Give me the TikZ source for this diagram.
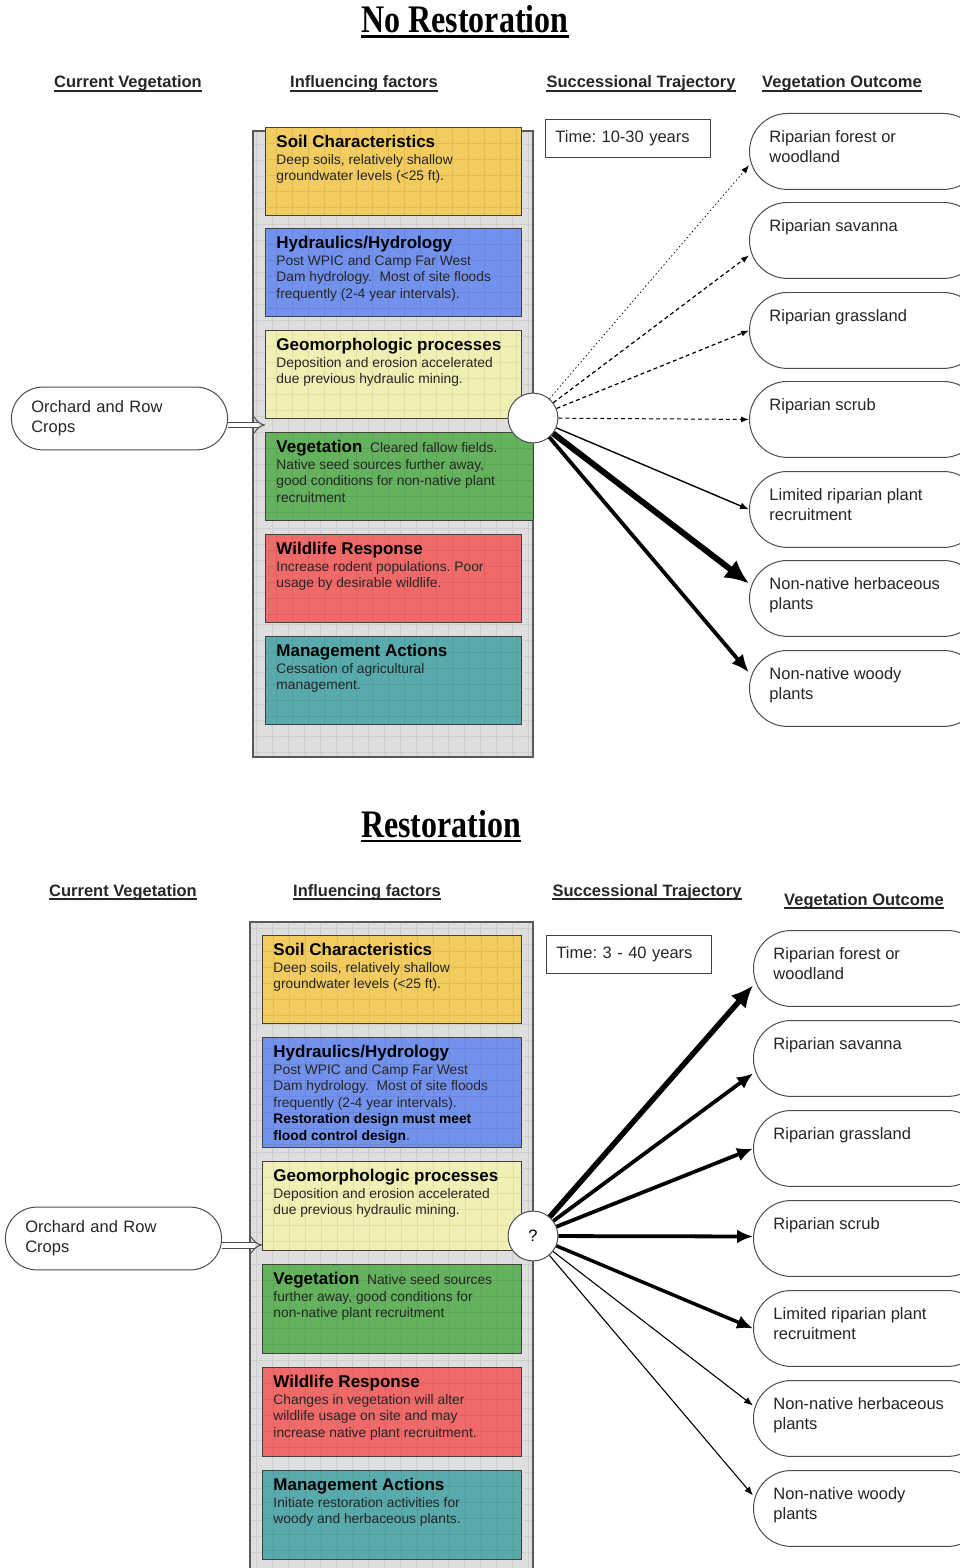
\documentclass[tikz,border=0pt]{standalone}
\usepackage{fontspec}
\setmainfont{Liberation Sans}
\newfontfamily\titlefont{Liberation Serif}[FakeStretch=0.82]
\usetikzlibrary{arrows.meta}
\frenchspacing

\definecolor{panelgray}{RGB}{222,222,222}
\definecolor{soilc}{RGB}{242,204,94}
\definecolor{hydroc}{RGB}{114,146,238}
\definecolor{geoc}{RGB}{241,240,180}
\definecolor{vegc}{RGB}{100,178,94}
\definecolor{wildc}{RGB}{240,106,106}
\definecolor{mgmtc}{RGB}{88,170,172}

\newcommand{\fs}[2]{\fontsize{#1bp}{#2bp}\selectfont}
\newcommand{\fhead}[1]{{\fs{17}{19}\bfseries\color{black}#1}}
\newcommand{\fbody}[3]{\parbox[c][#1bp][t]{#2bp}{\vspace*{1bp}\raggedright #3}}
\newcommand{\otext}[1]{\parbox[c][54bp][t]{192bp}{\vspace*{6bp}\raggedright #1}}

\tikzset{
  gridded/.style={path picture={\draw[black, opacity=0.07, line width=0.6]
      (path picture bounding box.north west) grid[step=16bp]
      (path picture bounding box.south east);}},
  title/.style={font=\titlefont\bfseries\fs{39}{40}, inner sep=0, anchor=base},
  colhead/.style={font=\bfseries\fs{16.5}{18}, text=black!85, inner sep=0, anchor=base},
  uline/.style={line width=1.3, black!85},
  panel/.style={fill=panelgray, draw=black!65, line width=1.2, gridded},
  factor/.style={draw=black!75, line width=1, anchor=north west, gridded,
      inner xsep=11, inner ysep=7, font=\fs{13.8}{16.5}, text=black!85},
  outcome/.style={draw=black!70, line width=1, rounded corners=38, fill=white,
      anchor=north west, minimum width=232, minimum height=76,
      inner xsep=20, inner ysep=11, font=\fs{16.5}{20}, text=black!85},
  crops/.style={draw=black!70, line width=1, rounded corners=31.5, fill=white,
      minimum width=217, minimum height=63, text width=177, align=left,
      inner xsep=20, font=\fs{16.5}{20}, text=black!85},
  timebox/.style={draw=black!75, line width=1, anchor=north west,
      minimum width=166, minimum height=38, text width=146, align=left,
      inner xsep=10, font=\fs{16.5}{20}, text=black!85},
  hub/.style={circle, draw=black!70, fill=white, line width=1, minimum size=50,
      inner sep=0, font=\fs{16.5}{20}},
  feed/.style={double=white, double distance=5, line width=1, draw=black!70,
      -{Implies[length=9]}},
  flow/.style={line width=#1, black}, flow/.default=1,
}

\begin{document}
\begin{tikzpicture}[x=1bp, y=-1bp]
\useasboundingbox (0,0) rectangle (959,1568);

% ---------------- No Restoration ----------------
\node[title] (tA) at (465,33) {No Restoration};
\draw[line width=3] ([yshift=-4]tA.base west) -- ([yshift=-4]tA.base east);

\node[colhead] (hA1) at (128,88) {Current Vegetation};
\node[colhead] (hA2) at (364,88) {Influencing factors};
\node[colhead] (hA3) at (641,88) {Successional Trajectory};
\node[colhead] (hA4) at (842,88) {Vegetation Outcome};
\foreach \h in {hA1,hA2,hA3,hA4}
  \draw[uline] ([yshift=-3]\h.base west) -- ([yshift=-3]\h.base east);

\draw[panel] (253,131) rectangle (533,757);

\node[factor, fill=soilc] (soilA) at (265,127) {\fbody{74}{234}{\fhead{Soil Characteristics}\\
  Deep soils, relatively shallow\\ groundwater levels (<25 ft).}};
\node[factor, fill=hydroc] (hydA) at (265,228) {\fbody{74}{234}{\fhead{Hydraulics/Hydrology}\\
  Post WPIC and Camp Far West\\ Dam hydrology.\ \ Most of site floods\\ frequently (2-4 year intervals).}};
\node[factor, fill=geoc] (geoA) at (265,330) {\fbody{74}{234}{\fhead{Geomorphologic processes}\\
  Deposition and erosion accelerated\\ due previous hydraulic mining.}};
\node[factor, fill=vegc] (vegA) at (265,432) {\fbody{74}{246}{\fhead{Vegetation}\ \ Cleared fallow fields.\\
  Native seed sources further away,\\ good conditions for non-native plant\\ recruitment}};
\node[factor, fill=wildc] (wildA) at (265,534) {\fbody{74}{234}{\fhead{Wildlife Response}\\
  Increase rodent populations. Poor\\ usage by desirable wildlife.}};
\node[factor, fill=mgmtc] (mgmtA) at (265,636) {\fbody{74}{234}{\fhead{Management Actions}\\
  Cessation of agricultural\\ management.}};

\node[crops] (cropsA) at (119.5,418.5) {Orchard and Row\\ Crops};
\coordinate (inA) at (265,425);
\draw[feed] (cropsA.east |- inA) -- (inA);

\node[timebox] (timeA) at (545,119) {Time: 10-30 years};
\node[hub] (hubA) at (533,418) {};

\node[outcome] (oA1) at (749,113) {\otext{Riparian forest or\\ woodland}};
\node[outcome] (oA2) at (749,202) {\otext{Riparian savanna}};
\node[outcome] (oA3) at (749,292) {\otext{Riparian grassland}};
\node[outcome] (oA4) at (749,381) {\otext{Riparian scrub}};
\node[outcome] (oA5) at (749,471) {\otext{Limited riparian plant\\ recruitment}};
\node[outcome] (oA6) at (749,560) {\otext{Non-native herbaceous\\ plants}};
\node[outcome] (oA7) at (749,650) {\otext{Non-native woody\\ plants}};

\draw[flow=0.7, dash pattern=on 1.5 off 2.5, -{Latex[length=8,width=6]}] (hubA) -- ([yshift=-14]oA1.west);
\draw[flow=1.2, dash pattern=on 4 off 3, -{Latex[length=8,width=6]}] (hubA) -- ([yshift=-15]oA2.west);
\draw[flow=1.2, dash pattern=on 4 off 3, -{Latex[length=8,width=6]}] (hubA) -- (oA3.west);
\draw[flow=1, dash pattern=on 4 off 3, -{Latex[length=8,width=6]}] (hubA) -- (oA4.west);
\draw[flow=1.4, -{Latex[length=9,width=7]}] (hubA) -- (oA5.west);
\draw[flow=6, -{Latex[length=24,width=22]}] (hubA) -- ([yshift=15]oA6.west);
\draw[flow=3.8, -{Latex[length=18,width=15]}] (hubA) -- ([yshift=16]oA7.west);

% ---------------- Restoration ----------------
\node[title] (tB) at (441,837) {Restoration};
\draw[line width=3] ([yshift=-4]tB.base west) -- ([yshift=-4]tB.base east);

\node[colhead] (hB1) at (123,896) {Current Vegetation};
\node[colhead] (hB2) at (367,896) {Influencing factors};
\node[colhead] (hB3) at (647,896) {Successional Trajectory};
\node[colhead] (hB4) at (864,905) {Vegetation Outcome};
\foreach \h in {hB1,hB2,hB3,hB4}
  \draw[uline] ([yshift=-3]\h.base west) -- ([yshift=-3]\h.base east);

\draw[panel] (250,922) rectangle (533,1590);

\node[factor, fill=soilc] (soilB) at (262,935) {\fbody{74}{237}{\fhead{Soil Characteristics}\\
  Deep soils, relatively shallow\\ groundwater levels (<25 ft).}};
\node[factor, fill=hydroc] (hydB) at (262,1037) {\fbody{96}{237}{\fhead{Hydraulics/Hydrology}\\
  Post WPIC and Camp Far West\\ Dam hydrology.\ \ Most of site floods\\ frequently (2-4 year intervals).\\
  {\bfseries\color{black}Restoration design must meet\\ flood control design}.}};
\node[factor, fill=geoc] (geoB) at (262,1161) {\fbody{75}{237}{\fhead{Geomorphologic processes}\\
  Deposition and erosion accelerated\\ due previous hydraulic mining.}};
\node[factor, fill=vegc] (vegB) at (262,1264) {\fbody{75}{237}{\fhead{Vegetation}\ \ Native seed sources\\
  further away, good conditions for\\ non-native plant recruitment}};
\node[factor, fill=wildc] (wildB) at (262,1367) {\fbody{75}{237}{\fhead{Wildlife Response}\\
  Changes in vegetation will alter\\ wildlife usage on site and may\\ increase native plant recruitment.}};
\node[factor, fill=mgmtc] (mgmtB) at (262,1470) {\fbody{75}{237}{\fhead{Management Actions}\\
  Initiate restoration activities for\\ woody and herbaceous plants.}};

\node[crops] (cropsB) at (113.5,1238.5) {Orchard and Row\\ Crops};
\coordinate (inB) at (262,1245);
\draw[feed] (cropsB.east |- inB) -- (inB);

\node[timebox] (timeB) at (546,935) {Time: 3 - 40 years};
\node[hub] (hubB) at (533,1236) {?};

\node[outcome] (oB1) at (753,930) {\otext{Riparian forest or\\ woodland}};
\node[outcome] (oB2) at (753,1020) {\otext{Riparian savanna}};
\node[outcome] (oB3) at (753,1110) {\otext{Riparian grassland}};
\node[outcome] (oB4) at (753,1200) {\otext{Riparian scrub}};
\node[outcome] (oB5) at (753,1290) {\otext{Limited riparian plant\\ recruitment}};
\node[outcome] (oB6) at (753,1380) {\otext{Non-native herbaceous\\ plants}};
\node[outcome] (oB7) at (753,1470) {\otext{Non-native woody\\ plants}};

\draw[flow=5.5, -{Latex[length=22,width=20]}] (hubB) -- ([yshift=-17]oB1.west);
\draw[flow=3.8, -{Latex[length=16,width=14]}] (hubB) -- ([yshift=-15]oB2.west);
\draw[flow=3.8, -{Latex[length=16,width=14]}] (hubB) -- (oB3.west);
\draw[flow=3.8, -{Latex[length=16,width=14]}] (hubB) -- ([yshift=2]oB4.west);
\draw[flow=3.5, -{Latex[length=16,width=14]}] (hubB) -- (oB5.west);
\draw[flow=1.1, -{Latex[length=9,width=7]}] (hubB) -- ([yshift=13]oB6.west);
\draw[flow=1.1, -{Latex[length=9,width=7]}] (hubB) -- ([yshift=13]oB7.west);
\end{tikzpicture}
\end{document}
